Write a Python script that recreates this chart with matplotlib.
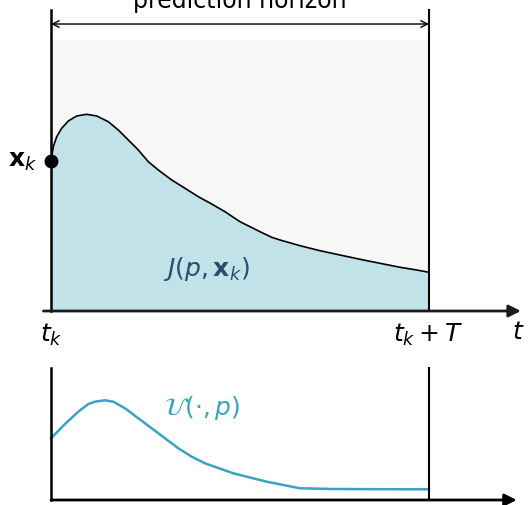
import numpy as np
import matplotlib.pyplot as plt
from matplotlib.patches import Rectangle

plt.rcParams['mathtext.fontset'] = 'dejavusans'

# predicted state trajectory over the horizon (t normalised: 0 = t_k, 1 = t_k + T)
t_state = [0.0, 0.0061, 0.0151, 0.0283, 0.0458, 0.068, 0.0944, 0.1209, 0.1516, 0.178,
           0.2045, 0.231, 0.2574, 0.2839, 0.3193, 0.3545, 0.3897, 0.4251, 0.4603, 0.5,
           0.5529, 0.5839, 0.6058, 0.6587, 0.7116, 0.7646, 0.8175, 0.8704, 0.9233, 0.9675, 1.0]
x_state = [0.5546, 0.6063, 0.6432, 0.6742, 0.7011, 0.7196, 0.7258, 0.7196, 0.6985, 0.6679,
           0.631, 0.5941, 0.5509, 0.5203, 0.4834, 0.4528, 0.4218, 0.3948, 0.3664, 0.3295,
           0.2926, 0.272, 0.262, 0.241, 0.2225, 0.2066, 0.1908, 0.176, 0.1613, 0.1513, 0.1428]

# control trajectory
t_ctrl = [0.0, 0.037, 0.0722, 0.0987, 0.1164, 0.1429, 0.1648, 0.1958, 0.231, 0.2664,
          0.3016, 0.3368, 0.3722, 0.4074, 0.4823, 0.5706, 0.6587, 0.746, 0.8704, 1.0]
u_ctrl = [0.4746, 0.5846, 0.6792, 0.7385, 0.7562, 0.7669, 0.7562, 0.7054, 0.6285, 0.5515,
          0.4746, 0.3977, 0.3331, 0.2823, 0.2054, 0.1408, 0.09, 0.0846, 0.0831, 0.0823]

fill_col = '#c2e2ea'
gray_col = '#f7f7f7'
j_col = '#24506e'
u_col = '#3aa3bf'

fig = plt.figure(figsize=(5.28, 5.05), dpi=100)
ax = fig.add_axes([0, 0, 1, 1])
ax2 = fig.add_axes([0, 0, 1, 1])
for a in (ax, ax2):
    a.set_xlim(-51 / 378, 477 / 378)
    a.axis('off')
    a.patch.set_alpha(0)
ax.set_ylim(-194 / 271, 311 / 271)
ax2.set_ylim(-5 / 130, 500 / 130)

# top panel
ax.add_patch(Rectangle((0, 0), 1, 1, color=gray_col, lw=0, zorder=0))
ax.fill_between(t_state, 0, x_state, color=fill_col, lw=0, zorder=1)
ax.plot(t_state, x_state, color='black', lw=1.2, zorder=2)
ax.plot([0, 0], [0, 1.111], color='black', lw=1.8, zorder=3)
ax.plot([1, 1], [0, 1.111], color='black', lw=1.5, zorder=3)
ax.plot(t_state[0], x_state[0], 'o', color='black', ms=9, zorder=4)
ax.annotate('', xy=(1.243, 0), xytext=(-0.02, 0),
            arrowprops=dict(arrowstyle='-|>', color='#1a1a1a', lw=2,
                            mutation_scale=18, shrinkA=0, shrinkB=0), zorder=3)
ax.annotate('', xy=(1, 1.059), xytext=(0, 1.059),
            arrowprops=dict(arrowstyle='<->', color='black', lw=1,
                            mutation_scale=12, shrinkA=0, shrinkB=0))
ax.text(0.5, 1.118, 'prediction horizon', ha='center', va='baseline', fontsize=17)
ax.text(-0.036, x_state[0], r'$\mathbf{x}_k$', ha='right', va='center', fontsize=18)
ax.text(0.41, 0.155, r'$J(p,\mathbf{x}_k)$', ha='center', va='center', fontsize=18, color=j_col)
ax.text(0.0, -0.09, r'$t_k$', ha='center', va='center', fontsize=18)
ax.text(0.997, -0.09, r'$t_k+T$', ha='center', va='center', fontsize=18)
ax.text(1.235, -0.077, r'$t$', ha='center', va='center', fontsize=18)

# bottom panel
ax2.plot(t_ctrl, u_ctrl, color=u_col, lw=1.8)
ax2.plot([0, 0], [0, 1.015], color='black', lw=1.8)
ax2.plot([1, 1], [0, 1.015], color='black', lw=1.5)
ax2.annotate('', xy=(1.232, 0), xytext=(0, 0),
             arrowprops=dict(arrowstyle='-|>', color='black', lw=2,
                             mutation_scale=18, shrinkA=0, shrinkB=0))
ax2.text(0.4, 0.71, r'$\mathcal{U}(\cdot,p)$', ha='center', va='center', fontsize=18, color=u_col)

fig.savefig('out.png', dpi=100)
